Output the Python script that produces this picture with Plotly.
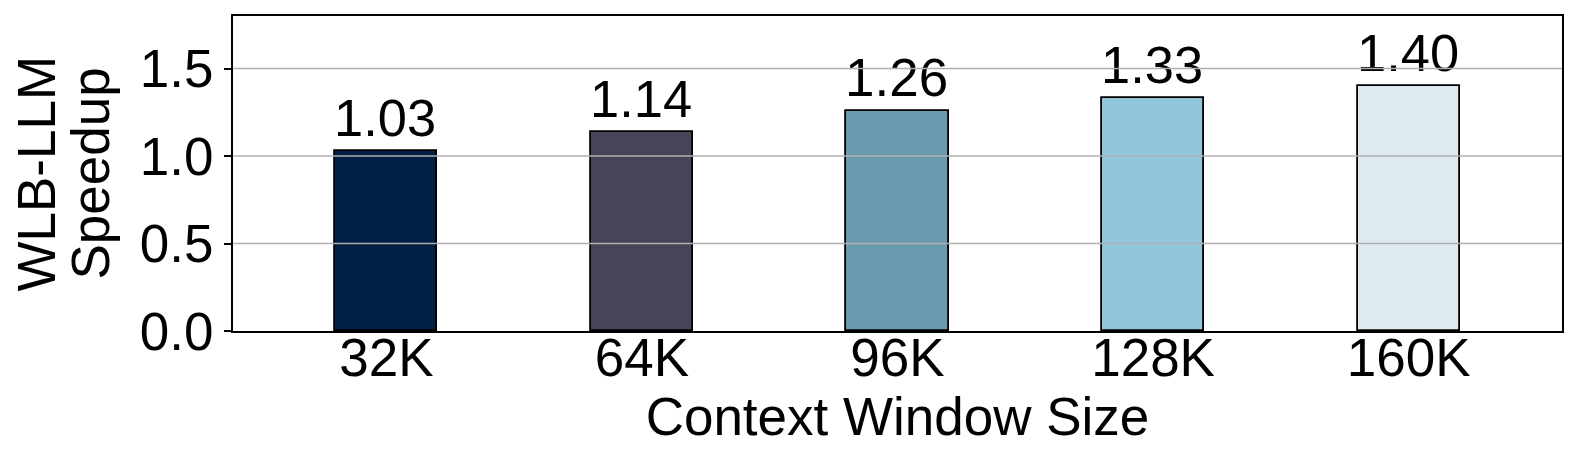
import plotly.graph_objects as go

# data
context_sizes = ['32K', '64K', '96K', '128K', '160K']
speedups = [1.03, 1.14, 1.26, 1.33, 1.40]
bar_colors = ['#022046', '#464558', '#6A9AAD', '#92C6DC', '#DEEAF0']
y_ticks = [0.0, 0.5, 1.0, 1.5]

FONT = 'Liberation Sans, Arial, sans-serif'
FSIZE = 53

fig = go.Figure()

fig.add_trace(
    go.Bar(
        x=list(range(len(context_sizes))),
        y=speedups,
        width=0.4,
        marker=dict(color=bar_colors, line=dict(color='black', width=1.8)),
        text=[f'{v:.2f}' for v in speedups],
        textposition='outside',
        textfont=dict(size=FSIZE, color='black', family=FONT),
        cliponaxis=False,
        showlegend=False,
    )
)

# grid lines sit on top of the bars in the reference
for t in y_ticks[1:]:
    fig.add_shape(
        type='line', xref='paper', x0=0, x1=1, yref='y', y0=t, y1=t,
        line=dict(color='#b0b0b0', width=1.5), layer='above'
    )

# two-line y title, done as annotations to control the line gap
fig.add_annotation(
    text='WLB-LLM', xref='paper', yref='paper', x=0, y=0.5,
    xshift=-197, xanchor='center', yanchor='middle', textangle=-90,
    showarrow=False, font=dict(size=FSIZE, color='black', family=FONT)
)
fig.add_annotation(
    text='Speedup', xref='paper', yref='paper', x=0, y=0.5,
    xshift=-143, xanchor='center', yanchor='middle', textangle=-90,
    showarrow=False, font=dict(size=FSIZE, color='black', family=FONT)
)

fig.update_layout(
    width=1578,
    height=461,
    margin=dict(l=233, r=16, t=16, b=130),
    plot_bgcolor='white',
    paper_bgcolor='white',
    font=dict(family=FONT, size=FSIZE, color='black'),
    bargap=0,
    xaxis=dict(
        tickmode='array',
        tickvals=list(range(len(context_sizes))),
        ticktext=context_sizes,
        range=[-0.6, 4.6],
        showgrid=False,
        zeroline=False,
        showline=True,
        linecolor='black',
        linewidth=2,
        mirror=True,
        ticks='',
        ticklabelstandoff=-21,
        tickfont=dict(size=FSIZE),
        title=dict(text='Context Window Size', font=dict(size=FSIZE), standoff=4),
    ),
    yaxis=dict(
        range=[0, 1.8],
        tickmode='array',
        tickvals=y_ticks,
        ticktext=[f'{t:.1f}' for t in y_ticks],
        showgrid=False,
        zeroline=False,
        showline=True,
        linecolor='black',
        linewidth=2,
        mirror=True,
        ticks='outside',
        ticklen=7,
        tickwidth=1.5,
        tickcolor='black',
        tickfont=dict(size=FSIZE),
    ),
)

# drop the default 8px body margin so the figure sits at the page corner
fig.write_html('out.html', config={'displayModeBar': False},
               post_script="document.body.style.margin='0';")
